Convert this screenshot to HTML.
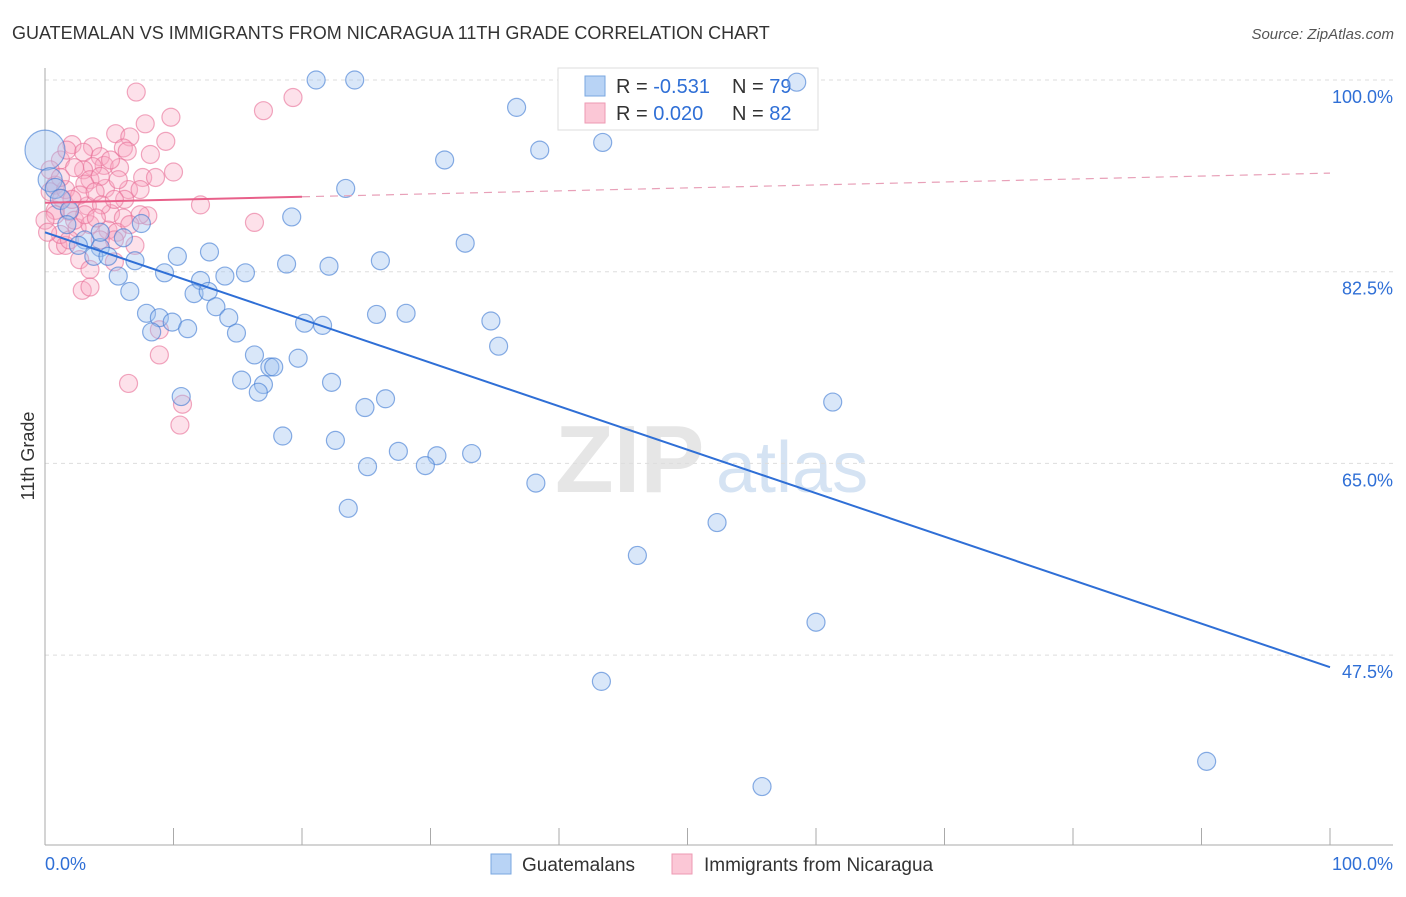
<!DOCTYPE html>
<html><head><meta charset="utf-8">
<style>
body{margin:0;background:#fff;font-family:"Liberation Sans",sans-serif;}
svg text{font-family:"Liberation Sans",sans-serif;}
</style></head>
<body>
<svg id="chart" width="1406" height="892" xmlns="http://www.w3.org/2000/svg">
<text x="12" y="39" font-size="18" fill="#333">GUATEMALAN VS IMMIGRANTS FROM NICARAGUA 11TH GRADE CORRELATION CHART</text>
<text x="1394" y="39" font-size="15" fill="#555" font-style="italic" text-anchor="end">Source: ZipAtlas.com</text>
<g>
<text x="555" y="492" font-size="96" font-family="Liberation Serif" fill="#e6e6e6" font-weight="bold">ZIP</text>
<text x="716" y="492" font-size="72" fill="#d5e3f3">atlas</text>
</g>
<g id="grid"></g>
<g id="axes"></g>
<g>
<rect x="558" y="68" width="260" height="62" fill="#fff" stroke="#ddd"/>
<rect x="585" y="76" width="20" height="20" fill="#b8d3f5" stroke="#7aa7e0"/>
<rect x="585" y="103" width="20" height="20" fill="#fbc7d6" stroke="#ee9ab3"/>
<text x="616" y="93" font-size="20" fill="#333">R = <tspan fill="#2f6fd6">-0.531</tspan></text>
<text x="732" y="93" font-size="20" fill="#333">N = <tspan fill="#2f6fd6">79</tspan></text>
<text x="616" y="120" font-size="20" fill="#333">R = <tspan fill="#2f6fd6"> 0.020</tspan></text>
<text x="732" y="120" font-size="20" fill="#333">N = <tspan fill="#2f6fd6">82</tspan></text>
</g>
<g id="pinkpts"></g>
<g id="bluepts"></g>
<g id="trends"></g>
<text x="34" y="456" font-size="18" fill="#333" text-anchor="middle" transform="rotate(-90 34 456)">11th Grade</text>
<g>
<rect x="491" y="854" width="20" height="20" fill="#b8d3f5" stroke="#7aa7e0"/>
<text x="522" y="871" font-size="19" fill="#333">Guatemalans</text>
<rect x="672" y="854" width="20" height="20" fill="#fbc7d6" stroke="#ee9ab3"/>
<text x="704" y="871" font-size="19" fill="#333">Immigrants from Nicaragua</text>
</g>
</svg>
<script>
const yTicks=[100,82.5,65,47.5];
const yTickLabels=["100.0%","82.5%","65.0%","47.5%"];
const xTickLabels=["0.0%","100.0%"];
const blueX=[21.1,24.1,58.5,36.7,38.5,43.4,31.1,23.4,19.2,7.5,6.1,3.1,2.6,4.3,3.8,4.9,7.0,10.3,12.8,9.3,12.1,14.0,15.6,18.8,22.1,26.1,32.7,5.7,6.6,11.6,12.7,7.9,8.9,9.9,8.3,11.1,13.3,14.3,14.9,20.2,21.6,25.8,28.1,34.7,35.3,16.3,19.7,17.5,17.8,15.3,17.0,16.6,22.3,26.5,24.9,10.6,18.5,22.6,27.5,30.5,29.6,33.2,25.1,38.2,23.6,52.3,46.1,61.3,60.0,43.3,90.4,55.8,0,0.4,0.8,1.2,1.9,1.7,4.3];
const blueY=[100,100,99.8,97.5,93.6,94.3,92.7,90.1,87.5,86.9,85.6,85.4,84.9,84.7,83.9,83.9,83.5,83.9,84.3,82.4,81.7,82.1,82.4,83.2,83.0,83.5,85.1,82.1,80.7,80.5,80.7,78.7,78.3,77.9,77.0,77.3,79.3,78.3,76.9,77.8,77.6,78.6,78.7,78.0,75.7,74.9,74.6,73.8,73.8,72.6,72.2,71.5,72.4,70.9,70.1,71.1,67.5,67.1,66.1,65.7,64.8,65.9,64.7,63.2,60.9,59.6,56.6,70.6,50.5,45.1,37.8,35.5,93.6,90.9,90.1,89.1,88.1,86.8,86.1];
const blueR=[9,9,9,9,9,9,9,9,9,9,9,9,9,9,9,9,9,9,9,9,9,9,9,9,9,9,9,9,9,9,9,9,9,9,9,9,9,9,9,9,9,9,9,9,9,9,9,9,9,9,9,9,9,9,9,9,9,9,9,9,9,9,9,9,9,9,9,9,9,9,9,9,20,12,10,10,9,9,9];
const pinkX=[7.1,17.0,19.3,9.8,7.8,9.4,5.5,6.6,6.1,6.4,2.1,3.7,3.0,4.3,4.6,3.7,5.8,3.0,3.5,3.1,4.7,6.5,7.6,8.6,10.0,5.7,4.3,1.2,0.8,0.4,1.3,1.9,3.3,5.1,6.1,8.0,12.1,16.3,4.9,5.6,2.5,1.0,1.6,2.7,5.4,3.5,2.9,3.5,8.9,6.5,10.7,10.5,8.9,7.4,6.6,5.4,2.3,0.8,1.6,2.7,3.9,5.1,1.7,2.3,4.4,1.2,1.9,4.3,6.2,7.4,0.4,0.8,0,3.5,7.0,8.2,5.4,1.2,2.1,3.1,4.0,0.2];
const pinkY=[98.9,97.2,98.4,96.6,96.0,94.4,95.1,94.8,93.8,93.5,94.1,93.9,93.4,93.0,92.2,92.1,92.0,91.8,90.9,90.5,90.1,90.0,91.1,91.1,91.6,90.9,91.2,92.7,90.4,89.8,89.2,88.0,88.5,87.8,87.4,87.6,88.6,87.0,86.3,86.1,86.5,84.9,84.9,83.6,83.4,82.7,80.8,81.1,74.9,72.3,70.4,68.5,77.2,87.7,86.8,85.4,87.2,88.1,90.0,89.5,89.8,92.7,93.6,92.0,88.6,85.9,85.4,85.4,89.1,90.0,91.8,87.7,87.2,86.8,84.9,93.2,89.1,91.1,89.1,87.7,87.4,86.1];
const blueTrend=[86.1,46.4];
const pinkTrend=[88.8,91.5];
const pinkSolidEnd=20;

const NS="http://www.w3.org/2000/svg";
const X0=45,X1=1330,Y100=80,PX_PER=191.7/17.5;
function sx(v){return X0+(X1-X0)*v/100;}
function sy(v){return Y100+(100-v)*PX_PER;}
function mk(tag,attrs,parent){const e=document.createElementNS(NS,tag);for(const k in attrs)e.setAttribute(k,attrs[k]);parent.appendChild(e);return e;}

const grid=document.getElementById('grid');
yTicks.forEach((t,i)=>{
  const l=mk('line',{x1:X0,x2:1393,y1:sy(t),y2:sy(t),stroke:'#ddd','stroke-dasharray':'4 4'},grid);
  
  
  const tx=mk('text',{x:1393,y:sy(t)+23,'font-size':18,fill:'#2f6fd6','text-anchor':'end'},grid);
  tx.textContent=yTickLabels[i];
  
  
});
const axes=document.getElementById('axes');
const ya=mk('line',{x1:X0,x2:X0,y1:68,y2:845,stroke:'#aaa'},axes);


const xa=mk('line',{x1:X0,x2:1393,y1:845,y2:845,stroke:'#aaa'},axes);


for(let i=0;i<=10;i++){
  const tk=mk('line',{x1:sx(i*10),x2:sx(i*10),y1:828,y2:845,stroke:'#aaa'},axes);
  
  
}
[[0,'start',X0],[1,'end',1393]].forEach(([i,a,x])=>{
  const t=mk('text',{x:x,y:870,'font-size':18,fill:'#2f6fd6','text-anchor':a},axes);
  t.textContent=xTickLabels[i];
  
  
});
const pg=document.getElementById('pinkpts');
pinkX.forEach((v,i)=>{
  const c=mk('circle',{cx:sx(v),cy:sy(pinkY[i]),r:9,fill:'rgba(248,170,195,0.35)',stroke:'rgba(232,110,150,0.6)','stroke-width':1.2},pg);
  
  
});
const bg=document.getElementById('bluepts');
blueX.forEach((v,i)=>{
  const c=mk('circle',{cx:sx(v),cy:sy(blueY[i]),r:blueR[i],fill:'rgba(160,195,240,0.4)',stroke:'rgba(60,120,210,0.6)','stroke-width':1.2},bg);
  
  
});
const tg=document.getElementById('trends');
const pAt=x=>pinkTrend[0]+(pinkTrend[1]-pinkTrend[0])*x/100;
const bl=mk('line',{x1:sx(0),y1:sy(blueTrend[0]),x2:sx(100),y2:sy(blueTrend[1]),stroke:'#2f6fd6','stroke-width':2},tg);


const pl=mk('line',{x1:sx(0),y1:sy(pAt(0)),x2:sx(pinkSolidEnd),y2:sy(pAt(pinkSolidEnd)),stroke:'#e8608a','stroke-width':2},tg);


const pd=mk('line',{x1:sx(pinkSolidEnd),y1:sy(pAt(pinkSolidEnd)),x2:sx(100),y2:sy(pAt(100)),stroke:'#e8a0b8','stroke-width':1.2,'stroke-dasharray':'8 6'},tg);


</script>
</body></html>
